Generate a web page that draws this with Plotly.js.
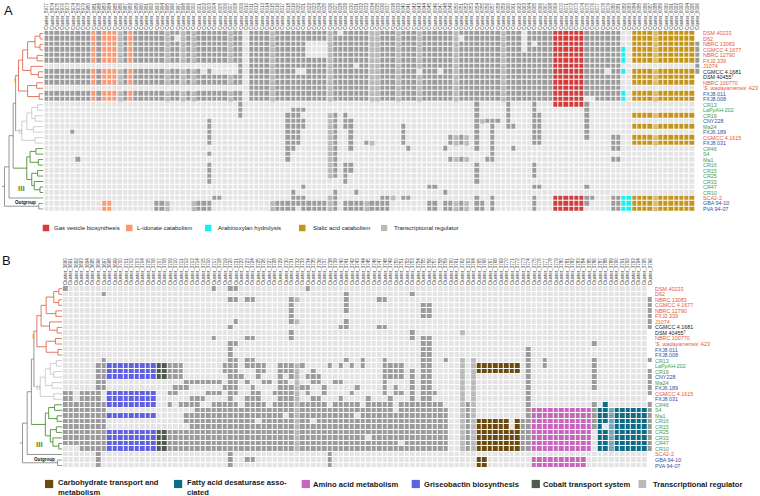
<!DOCTYPE html>
<html><head><meta charset="utf-8">
<script src="https://cdn.plot.ly/plotly-3.0.1.min.js"></script>
<style>html,body{margin:0;padding:0;background:#fff}#chart{width:760px;height:496px}</style>
</head><body><div id="chart"></div>
<script>
// ---------------- data ----------------
const strains = ["DSM 40233","D62","NBRC 13083","CGMCC 4.1677","NBRC 12790","FXJ2.339","J1074","CGMCC 4.1681","DSM 40455<sup>T</sup>","NBRC 100770","'<i>S. wadayamensis</i>' A23","FXJ8.011","FXJ8.008","CR13","LaPpAH-202","CR19","CNY228","Ma24","FXJ6.189","CGMCC 4.1615","FXJ8.031","CR46","S4","Ma1","CR16","CR15","CR25","CR33","CR47","CR10","SCA2-2","GBA 94-10","PVA 94-07"];
const strainSource = "RRRRRRRKKRRBBGGGBGBRBGGGGGGGGGRBB";

const clustersA = ["5977","5874","5975","5976","5973","5974","5978","5979","5980","5981","5988","5983","5984","5985","5986","5987","5982","5989","5990","5991","5992","5993","5994","5995","5996","5997","5998","5999","6000","6001","6002","6003","6004","6005","6006","6007","6008","6009","6010","6011","6012","6013","6014","6015","6016","6017","6018","6019","6020","6021","6022","6023","6024","6025","6026","6027","6028","6029","6030","6031","6032","6033","6034","6035","6036","6037","6038","6039","6040","6041","6042","6043","6044","6045","6046","6047","6048","6049","6050","6051","6052","6053","6054","6055","6056","6057","6058","6059","6060","6061","6062","6063","6064","6065","6066","6067","6068","6069","6070","6071","6072","6073","6074","6075","6076","6077","6078","6079","6080","6081","6082","6083","6084","6085","6086","6087","6088","6089","6090","6091","6092","6093","6094","6095","6096"];
const clustersB = ["3690","3691","3692","3693","3694","3695","3696","3697","3698","3699","3700","3701","3702","3703","3704","3705","3706","3707","3708","3709","3710","3711","3712","3713","3714","3715","3716","3717","3718","3719","3720","3721","3722","3723","3724","3725","3726","3727","3728","3729","3730","3731","3732","3733","3734","3735","3736","3737","3738","3739","3740","3741","3742","3743","3744","3745","3746","3747","3748","3749","3750","3751","3752","3753","3754","3755","3756","3757","3758","3759","3760","3761","3762","3763","3764","3765","3766","3767","3768","3769","3770","3771","3772","3773","3774","3775","3776","3777","3778","3779","3780","3781","3782","3783","3784","3785","3786","3787","3788","3789","3790","3791","3792","3793","3794","3795","3796"];

// '.' absent, '#' present, 'x' transcriptional regulator, 'z' regulator in sialic block,
// 'R' gas vesicle, 'O' L-idonate, 'C' arabinoxylan, 'Y' sialic acid, '_' no cell
const rowsA = [
"#########O #OOOx#O### ###x##x#x# #####x##.# ###x###### ####x#.### ##xx###x## #x######x# #######x## #.#####RRR RRR####### ..YYYYzYYY YYYY_",
"#########O #OOOx#O### ###x#.x#x# #####x##.# ###x###### ####x##### ##xx###x## #x######x. #######x## #.#####RRR RRR####### ..YYYYzYYY YYYY_",
"#########O #OOOx#O### ###x##x#x# #####x##.# ###x###### ....x##### ##xx###x## #x######x# #######x## #.#.###RRR RRR####### ..YYYYzYYY YYYY#",
"#########O #OOOx#O### ###x##x#x# #####x##.# ###x###### ....x##### ##xx###x## #x######x# #######x## #.#####RRR RRR####### C.YYYYzYYY YYYY#",
"#########O #OOOx#O### ###x##x#x# #####x##.# ###x###### ....x##### ##xx###x## #x######x# #######x## #######RRR RRR####### C.YYYYzYYY YYYY#",
"#########O #OOOx#O### ###x##x#x# #####x##.# ###x###### ####x##### ##xx###x## #x######x# #######x## #######RRR RRR####### C.YYYYzYYY YYYY#",
".......... .......... .......... .......#.# ###x###### ####x####. ##xx###x## #x######x# #######x## #######RRR RRR####### .......... ....#",
"#########O #OOOx#O### ###x##x#x# .#.....#.# ###x####.. ####x##### ##xx###x## #.###.##x# #######x## #######RRR RRR####.## C.YYYYzYYY YYYY#",
"#########O #OOOx#O### ###x##x#x# #####x##.# ###x###### ####x##### ##xx###x## #x######x# #######x## #######RRR RRR####### ..YYYYzYYY YYYY_",
"#########O #OOOx#O### ###x##x#x# #####x##.# ###x###### ####x##### ##xx###x## #x######x# #######x## #######RRR RRR####### ..YYYYzYYY YYYY_",
".......... .......... .......... .........# ###x###### ####x##### ##xx###x## #x######x# #######x## #######RRR RRR####### .......... ...._",
"#########O #OOOx#O### ###x##x#x# #####x##.# ###x###### ####x##### ##xx###x## #x######x# #######x## #######RRR RRR####### C.YYYYzYYY YYYY_",
"#########O #OOOx#O### ###x##x#x# #####x##.# ###x###### ####x##### ##xx###x## #x######x# #######x## #######RRR RRR..##### C.YYYYzYYY YYYY_",
".......... .......... .......... .......#.. .......... .......... .......... .......... ..#.....#. ...#...RRR RRR#...... .......... ...._",
".......... .......... .......... .......#.. .......### .......... .......... .......... ..#.....#. ...#...... ...#...... .......... ...._",
".......... .......... .......... .......#.. ......###. ....x#.#.. .......... .......... ..#.....#. ...##..... ...#...... ..YYYYzYYY YYYY_",
".......... .......... .......... .#........ ......#### ....x#.##. .......... .......... ..#x###.#. ...##..... ...#...... .......... ...._",
".......... .......... .......... .#........ ......#### ....x#.##. ........#. .......... ..#..#..## ...##..... ...#...... ..YYYYzYYY YYYY_",
".....#.... .......... .......... .#........ ......###. ....x#..#. ........#. .......... ..#..#.... ...##..... ...#...... .......... ...._",
".......... .......... .......... .#........ ......###. ....x#..#. ........#. .......#x# x.#..#.... ...##..... ...#....## ..YYYYzYYY YYYY_",
".......... .......... .......... .#........ ......###. ....x#..#. .#x.....#. .......#x# x.#..#.... ...##..... ........## ..YYYYzYYY YYYY_",
".......... .......... .......... .......... ......##.. ....x#..#. .........# ......#... ..#..#...# .......... ........## .......... ...._",
".......... .......... .......... .#........ ......#... ....x#.... .......... .......... .....#.... .......... .......... .......... ...._",
"......#... .......... .......... .......... ......#... ....x#.... .......... .......#x# x...##.... .......... ........## .......... ...._",
".......... .......... .......... .#........ .......... ....x#.##. .......... .......... ..#....... ...#...... .......... .......... ...._",
".......... .......... .......... .#........ .......... ....x#.##. .......... .......... ..#....... ...#...... .......... .......... ...._",
".......... .......... .......... .#........ .......... ....x#.#.. .......... .......... ..#....... ...#...... .......... .......... ...._",
".......... .......... .......... .#........ .......... .......#.. .......... .......... ..#....... .......... .......... .......... ...._",
".......... .......... .......... .......... .........# .......... .......... ...##..... .......... ...##..... ...#...... .......... ...._",
".......... .......... .......... .......... .......#.. .....#...# .......... ......#... .......... .......... .......... .......... ...._",
".......... .......... .......... ..##...... .......### ....x#.... ....##x.## .......... ..#..#.... ...#...RRR RRR##...## CCYYYYzYYY YYYY_",
".......... .OO....... .##x....x# ##........ ...x###### ####x#.### #x####.... ...##.##x# x.##.#.... ...#...RRR RRR#....## CCYYYYzYYY YYYY_",
".......... .OO....... .##x....x# ##........ ...x####.# ####x#.### #x####.... ...##.##x# x.##.#.... ...#...RRR RRR.....## CCYYYYzYYY YYYY_"
];

// 'B' carbohydrate, 'T' fatty acid desaturase, 'q' regulator in that block, 'M' amino acid,
// 'G' griseobactin, 'K' cobalt transport
const rowsB = [
"#......... .......... .......#.. ##........ ....#..... .......... .......... .......... .......... .......... ......_",
".......#.. .......... .......... .......... .......... .#........ ...#...... .......... .......... .......... ......_",
".......... .......... .......... ##.##..... .#x....... .#.....##. .......... .......... .......... .......... ......#",
".......... .......... .......... .......... .#........ .#........ .....##... .......... .......... .......... ......#",
".......... .......... .......... .......... .#........ .#........ .....##... .......... .......... .......... ......#",
".......... .......... .......... .......... .#........ .......... .....##... .......... .......... .......... ......#",
".......... .......... .......... .#........ .#x....... .#........ .......... .......... .......... .......... ......#",
".......... .......... .......... #......... .......... ##.....##. .......... .......... .......... .......... ......#",
".......... .......... .......... .......... .#........ .......... ...#...... ..x....... .......... .......... ......_",
".......... .......... .......#.. ...##..... .#........ .......... ...#.##... .......... .......... .......... ......_",
".......... .......... .......... ##........ .......... .......... .....##... .......... .......... ......#... ......_",
".......... .......... .......... #......... .......... .......... .....##... .......... ....#..... .......... ......_",
".......... .......... .......... #......... .......... .......... .....##... .......... ....#..... .......... ......_",
".......#.. .......... .......... ##.##..... .......... .#..#...#. .....##..# ..x.x..... ....#..#.. ......#... ......#",
"......##GG GGGGGGGKK# ##.......# ##.####..# ##x#....#. #.#.#...## ##...##... ..x.xBBBBB BBB.#..#.. ......#... ......_",
"......##GG GGGGGGGKK# ##.......# ##...##..# ##x..#.... ........## ##.#.##... ..x.xBBBBB BBB.#..... ......#... ......#",
"......##GG GGGGGGGKK# ##........ ###..#...# .#x.###... ........## ##.#.##... ..x.x..... ....#..... ......#... ......#",
"......##.. .......... ..#######. ##.#..##.# #.x..##..# #.......#. ...#.##... ..x.x..... ....#..... ......#... ......#",
"......##.. .......... ###......# ##..#....# ##x##..#.. ...#....#. #..#.##... ..x.x..... ....#..... ......#... ......#",
"##.####.GG GGGGGGG..# #.....###. ##..##..## ##x.#..#.. ..#.....#. ##.#.###.. ..x.x..... ....#..... .......... ......#",
"##.####.GG GGGGGGG... ...###.... #..###...# ##x..##... #....#...# ...#.##... ..x.x..... ....#..... .......... ......_",
"########GG GGGGGGG..# .####..### ##.####.## ##x#####.# ####.##### .########. ..x#x..... ....#..... ......#.T. ......#",
"########.. .......... ....###### ########## ##x####### ########## .######### ..x#x..... ....#MMMMM MMMMMM#TTq TTTTTT#",
"########GG GGGGGGG... ..######## ########## .#x####### ###.###### ########## ..x#x..... ....#MMMMM MMMMMM#TTq TTTTTT#",
"########.. .......... ..######## #####.#### ##x##.#### ########## ########## ..x#xBBBBB B.B##MMMMM MMMMMM#TTq TTTTTT#",
"########.. .......... ...####### ########## ##x####### ########## ########## ..x#xBBBBB B.B##MMMMM MMMMMM#T.q TTTTTT#",
"########GG GGGGGGGKK# ########## ########## ##x####### ########## ########## ..x#xBBBBB BBB##MMMMM MMMMMM.TTq TTTTTT#",
"########GG GGGGGGGKK# ########## ########## ##x####### #####.#### ########## ..x#xBBBBB BBB##MMMMM MMMMMM.TTq TTTTTT#",
"########GG GGGGGGGKK# ########## ########## ##x####### ########## #.######## ..x#xBBBBB BBB##MMMMM MMMMMM.TTq TTTTTT#",
"...#####GG GGGGGGGKK# ########## ########## ##x####### ########## ########## ..x#xBBBBB BBB##MMMMM MMMMMM.TTq TTTTTT#",
"......#... .......... .......... #......... ........#. .......... .......... .......... .......... .......... ......_",
"......#... .......... .......... #..##..... ........#. .......... .......... .....BB... .....MMMMM MMMMM..... ......_",
"......#... .......... .......... #......... ........#. .......... .......... .....BB... .....MMMMM MMMMM..... ......_"
];

// dendrogram: [height (0 = root side, 1 = tips), child, child, clade]
const cladeI = [0.40, [0.50, [0.62, [0.80, [0.92, 0, 1], [0.92, 2, 3]], [0.85, 4, 5]], [0.70, 6, [0.88, 7, 8]]], [0.62, [0.84, 9, 10], [0.90, 11, 12]], 'I'];
const cladeII = [0.48, [0.60, [0.72, [0.86, 13, 14], [0.80, 15, 16]], [0.76, 17, 18]], [0.80, 19, 20], 'II'];
const cladeIII = [0.60, [0.68, [0.82, 21, 22], [0.88, 23, 24]], [0.72, [0.86, 25, 26], [0.78, 27, [0.92, 28, 29]]], 'III'];
const tree = [0.06, [0.17, [0.27, [0.33, cladeI, cladeII], cladeIII], 30], [0.89, 31, 32]];

const legendA = [["Gas vesicle biosynthesis", "R"], ["L-idonate catabolism", "O"], ["Arabinoxylan hydrolysis", "C"], ["Sialic acid catabolism", "Y"], ["Transcriptional regulator", "x"]];
const legendB = [["Carbohydrate transport and<br>metabolism", "B"], ["Fatty acid desaturase asso-<br>ciated", "T"], ["Amino acid metabolism", "M"], ["Griseobactin biosynthesis", "G"], ["Cobalt transport system", "K"], ["Transcriptional regulator", "x"]];

// ---------------- styles ----------------
const catA = ['.', '#', 'x', 'z', 'R', 'O', 'C', 'Y'];
const colA = ['#e4e4e4', '#9b9b9b', '#cdcdcd', '#e2cf95', '#d23c3c', '#f99872', '#18f0f0', '#c4951c'];
const catB = ['.', '#', 'x', 'q', 'B', 'T', 'M', 'G', 'K'];
const colB = ['#e4e4e4', '#9b9b9b', '#cdcdcd', '#8fbccb', '#6b4a0e', '#0e6b86', '#c766bc', '#6060e2', '#4f5b4c'];
const srcColor = {R: '#e4583c', K: '#1a1a1a', B: '#2f4fa6', G: '#529a3a'};
const cladeColor = {I: '#e06a50', II: '#c9c9c9', III: '#4f8f35', base: '#8a8a8a'};
const FONT = 'Liberation Sans, Arial, sans-serif';

const W = 760, H = 496;
const px = v => v / W, py = v => 1 - v / H;
const geo = {
  A: {x0: 44.3, x1: 700.2, y0: 30.7, y1: 211.7, d0: 2, d1: 43.3, lab: 701.5},
  B: {x0: 62.7, x1: 652.8, y0: 286, y1: 468.3, d0: 20, d1: 62.2, lab: 654}
};

function cells(rows) { return rows.map(s => s.replace(/ /g, '').split('')); }
function discreteScale(cols) { const n = cols.length, cs = []; cols.forEach((c, k) => { cs.push([k / n, c]); cs.push([(k + 1) / n, c]); }); return cs; }

const traces = [];
const annotations = [];
const shapes = [];
const layout = {
  width: W, height: H, margin: {l: 0, r: 0, t: 0, b: 0},
  paper_bgcolor: '#fff', plot_bgcolor: '#fff', showlegend: false, barmode: 'overlay',
  font: {family: FONT}
};

function panel(key, rows, cats, cols, clusters, xa, ya, xd, hatchDefs) {
  const g = geo[key];
  const grid = cells(rows);
  const ncol = clusters.length;
  const z = grid.map(r => r.map(ch => ch === '_' ? null : cats.indexOf(ch)));
  const idx = clusters.map((_, i) => i);
  traces.push({type: 'heatmap', z: z, x: idx, y: strains.map((_, i) => i), xaxis: xa, yaxis: ya,
    colorscale: discreteScale(cols), zmin: -0.5, zmax: cols.length - 0.5, showscale: false,
    xgap: 1, ygap: 1, hoverinfo: 'skip'});
  // hatched cells
  const cw = (g.x1 - g.x0) / ncol, ch = (g.y1 - g.y0) / strains.length;
  hatchDefs.forEach(hd => {
    const xs = [], bs = [];
    grid.forEach((r, ri) => r.forEach((c, ci) => { if (c === hd.ch) { xs.push(ci); bs.push(ri - 0.5 + 0.5 / ch); } }));
    traces.push({type: 'bar', x: xs, y: xs.map(() => 1 - 1 / ch), base: bs, width: 1 - 1 / cw, xaxis: xa, yaxis: ya,
      marker: {color: hd.bg, line: {width: 0}, pattern: {shape: '.', fgcolor: hd.fg, bgcolor: hd.bg, size: 2, solidity: 0.55}},
      hoverinfo: 'skip', showlegend: false});
  });
  const xname = 'xaxis' + xa.slice(1), yname = 'yaxis' + ya.slice(1);
  layout[xname] = {domain: [px(g.x0), px(g.x1)], range: [-0.5, ncol - 0.5], anchor: ya, side: 'top', type: 'linear',
    tickmode: 'array', tickvals: idx, ticktext: clusters.map(c => 'Cluster_' + c), tickangle: -90,
    tickfont: {size: 4.5, color: '#444', family: FONT}, ticks: '', showgrid: false, zeroline: false, showline: false, fixedrange: true};
  layout[yname] = {domain: [py(g.y1), py(g.y0)], range: [strains.length - 0.5, -0.5], anchor: xa, showticklabels: false,
    showgrid: false, zeroline: false, showline: false, ticks: '', fixedrange: true};
  // dendrogram
  const segs = [];
  const isNode = n => Array.isArray(n);
  function walk(node, color) {
    if (!isNode(node)) return node;
    const col = node[3] || color;
    const a = node[1], b = node[2];
    const yaa = walk(a, col), ybb = walk(b, col);
    const xaa = isNode(a) ? a[0] : 1, xbb = isNode(b) ? b[0] : 1;
    segs.push({c: col, x: [node[0], node[0]], y: [yaa, ybb]});
    segs.push({c: (isNode(a) && a[3]) || col, x: [node[0], xaa], y: [yaa, yaa]});
    segs.push({c: (isNode(b) && b[3]) || col, x: [node[0], xbb], y: [ybb, ybb]});
    return (yaa + ybb) / 2;
  }
  const rootY = walk(tree, 'base');
  segs.push({c: 'base', x: [0, tree[0]], y: [rootY, rootY]});
  const dx = 'x' + xd, dxname = 'xaxis' + xd;
  Object.keys(cladeColor).forEach(k => {
    const X = [], Y = [];
    segs.filter(s => s.c === k).forEach(s => { X.push(s.x[0], s.x[1], null); Y.push(s.y[0], s.y[1], null); });
    traces.push({type: 'scatter', mode: 'lines', x: X, y: Y, xaxis: dx, yaxis: ya, line: {color: cladeColor[k], width: 0.9}, hoverinfo: 'skip'});
  });
  layout[dxname] = {domain: [px(g.d0), px(g.d1)], range: [0, 1], anchor: ya, visible: false, fixedrange: true};
  const yref = ya;
  annotations.push({xref: dx, yref: yref, x: 0.31, y: 8.6, text: 'I', showarrow: false, font: {size: 8, color: cladeColor.I, family: FONT}});
  annotations.push({xref: dx, yref: yref, x: 0.425, y: 17.8, text: 'II', showarrow: false, font: {size: 8, color: '#bdbdbd', family: FONT}});
  annotations.push({xref: dx, yref: yref, x: 0.47, y: 28.2, text: '<b>III</b>', showarrow: false, font: {size: 8, color: cladeColor.III, family: FONT}});
  annotations.push({xref: dx, yref: yref, x: 0.58, y: 30.85, text: '<b>Outgroup</b>', showarrow: false, font: {size: 4.6, color: '#111', family: FONT}});
  // strain labels
  strains.forEach((s, i) => annotations.push({xref: 'paper', yref: yref, x: px(g.lab), y: i, xanchor: 'left', yanchor: 'middle',
    text: s, showarrow: false, borderpad: 0, font: {size: 5.4, color: srcColor[strainSource[i]], family: FONT}}));
}

panel('A', rowsA, catA, colA, clustersA, 'x', 'y', 3, [{ch: 'x', bg: '#e6e6e6', fg: '#8c8c8c'}, {ch: 'z', bg: '#efe2b8', fg: '#c4951c'}]);
panel('B', rowsB, catB, colB, clustersB, 'x2', 'y2', 4, [{ch: 'x', bg: '#e6e6e6', fg: '#8c8c8c'}, {ch: 'q', bg: '#cfe3ea', fg: '#0e6b86'}]);

// panel letters
annotations.push({xref: 'paper', yref: 'paper', x: px(2), y: py(1), xanchor: 'left', yanchor: 'top', text: 'A', showarrow: false, font: {size: 13, color: '#111', family: FONT}});
annotations.push({xref: 'paper', yref: 'paper', x: px(0), y: py(250.5), xanchor: 'left', yanchor: 'top', text: 'B', showarrow: false, font: {size: 13, color: '#111', family: FONT}});

// legends
function legend(items, cats, cols, sq, txt, yc, size, fsize, bold, axn, hatch, twoY) {
  items.forEach((it, i) => {
    const [label, cat] = it;
    const x0 = sq[i];
    if (cat === 'x') {
      const xn = 'xaxis' + axn, yn = 'yaxis' + axn;
      traces.push({type: 'bar', x: [0], y: [1], width: 1, xaxis: 'x' + axn, yaxis: 'y' + axn,
        marker: {color: hatch.bg, line: {width: 0}, pattern: {shape: '.', fgcolor: hatch.fg, bgcolor: hatch.bg, size: 2, solidity: 0.55}}, hoverinfo: 'skip'});
      layout[xn] = {domain: [px(x0), px(x0 + size)], range: [-0.5, 0.5], anchor: 'y' + axn, visible: false, fixedrange: true};
      layout[yn] = {domain: [py(yc + size / 2), py(yc - size / 2)], range: [0, 1], anchor: 'x' + axn, visible: false, fixedrange: true};
    } else {
      shapes.push({type: 'rect', xref: 'paper', yref: 'paper', x0: px(x0), x1: px(x0 + size), y0: py(yc + size / 2), y1: py(yc - size / 2),
        fillcolor: cols[cats.indexOf(cat)], line: {width: 0}});
    }
    const two = label.indexOf('<br>') >= 0;
    annotations.push({xref: 'paper', yref: 'paper', x: px(txt[i]), y: two ? py(twoY) : py(yc), xanchor: 'left', yanchor: 'middle',
      align: 'left', text: bold ? '<b>' + label + '</b>' : label, showarrow: false, borderpad: 0,
      font: {size: fsize, color: '#1a1a1a', family: FONT}});
  });
}
legend(legendA, catA, colA, [42.7, 126, 205, 299, 381], [52.5, 136, 217, 311.5, 392.5], 228, 6.5, 6, false, 5, {bg: '#e6e6e6', fg: '#8c8c8c'}, 228);
legend(legendB, catB, colB, [45, 174, 301.7, 411.7, 531.7, 638.3], [57, 185.5, 311.7, 422.7, 542.3, 651.7], 484, 8.2, 7.6, true, 6, {bg: '#e6e6e6', fg: '#8c8c8c'}, 487.3);

layout.annotations = annotations;
layout.shapes = shapes;
Plotly.newPlot('chart', traces, layout, {staticPlot: true, displayModeBar: false});
</script>
</body></html>
